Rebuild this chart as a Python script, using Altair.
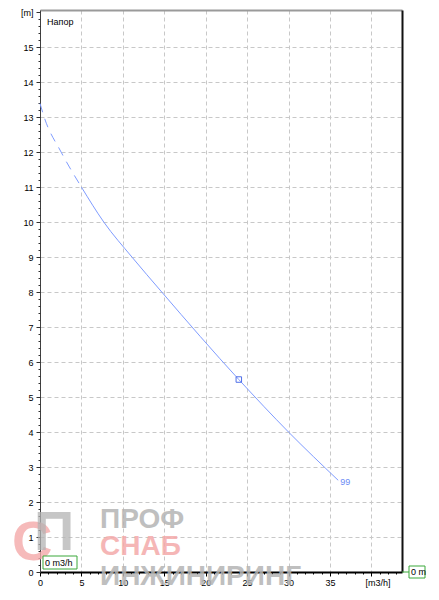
import altair as alt
import pandas as pd

# ---- data ----
q_solid = [5.0, 7.7, 11.1, 14.7, 24.0, 30.0, 36.0]
h_solid = [11.0, 10.0, 9.0, 8.0, 5.5, 4.0, 2.62]
q_dash = [0.0, 0.5, 2.55, 5.0]
h_dash = [13.39, 13.0, 12.0, 11.0]
q_point = [24.0]
h_point = [5.5]
curve_label = ["99"]
x_major = [0, 5, 10, 15, 20, 25, 30, 35, 40]
x_minor = list(range(0, 44))
y_major = list(range(0, 17))
y_minor = [round(i * 0.2, 1) for i in range(0, 81)]

FONT = "Liberation Sans"
BLUE = "#7f9cff"
GRID = "#c8c8c8"

df_solid = pd.DataFrame({"q": q_solid, "h": h_solid})
df_dash = pd.DataFrame({"q": q_dash, "h": h_dash})
df_pt = pd.DataFrame({"q": q_point, "h": h_point})
df_lab = pd.DataFrame({"q": [q_solid[-1]], "h": [h_solid[-1]], "t": curve_label})
one = pd.DataFrame({"a": [0]})

xs = alt.Scale(domain=[0, 43.7], nice=False, zero=False)
ys = alt.Scale(domain=[0, 16.06], nice=False, zero=False)

x_main = alt.Axis(orient="bottom", values=x_major, title=None,
                  labelExpr="datum.value == 40 ? '' : datum.label",
                  grid=True, gridColor=GRID, gridDash=[4, 3], gridWidth=1,
                  domainColor="black", domainWidth=2, tickColor="black",
                  tickSize=4, labelFont=FONT, labelFontSize=9,
                  labelColor="black", labelPadding=2, labelFlush=False)
y_main = alt.Axis(orient="left", values=y_major, title=None,
                  labelExpr="datum.value == 16 ? '[m]' : datum.label",
                  grid=True, gridColor=GRID, gridDash=[4, 3], gridWidth=1,
                  gridOpacity={"condition": {"test": "datum.value == 16", "value": 0}, "value": 1},
                  domainColor="#404040", domainWidth=1, tickColor="#303030",
                  tickSize=4, labelFont=FONT, labelFontSize=9,
                  labelColor="black", labelPadding=3, labelFlush=False)
x_top = alt.Axis(orient="top", labels=False, ticks=False, grid=False, title=None,
                 domainColor="#9a9a9a", domainWidth=2)
y_right = alt.Axis(orient="right", labels=False, ticks=False, grid=False, title=None,
                   domainColor="#111111", domainWidth=2)
x_min_ax = alt.Axis(orient="bottom", values=x_minor, labels=False, grid=False,
                    title=None, domain=False, tickSize=2, tickColor="black")
y_min_ax = alt.Axis(orient="left", values=y_minor, labels=False, grid=False,
                    title=None, domain=False, tickSize=2, tickColor="#303030")

solid = alt.Chart(df_solid).mark_line(color=BLUE, strokeWidth=1, interpolate="monotone").encode(
    x=alt.X("q:Q", scale=xs, axis=x_main),
    y=alt.Y("h:Q", scale=ys, axis=y_main))

dashed = alt.Chart(df_dash).mark_line(color=BLUE, strokeWidth=1, strokeDash=[9, 7],
                                      interpolate="monotone").encode(
    x=alt.X("q:Q", scale=xs, axis=x_top),
    y=alt.Y("h:Q", scale=ys, axis=y_right))

minor = alt.Chart(df_pt).mark_point(opacity=0).encode(
    x=alt.X("q:Q", scale=xs, axis=x_min_ax),
    y=alt.Y("h:Q", scale=ys, axis=y_min_ax))

pt = alt.Chart(df_pt).mark_point(shape="square", filled=False, color="#4f6fe8",
                                 size=30, strokeWidth=1, opacity=1).encode(
    x=alt.X("q:Q", scale=xs, axis=None), y=alt.Y("h:Q", scale=ys, axis=None))

lab = alt.Chart(df_lab).mark_text(align="left", baseline="middle", dx=2, dy=2,
                                  font=FONT, fontSize=9, color="#6b8cf5").encode(
    x=alt.X("q:Q", scale=xs, axis=None), y=alt.Y("h:Q", scale=ys, axis=None), text="t:N")

# ---- watermark ----
wm_gray = "#b4b4b4"
wm_pink = "#f4aaaa"
wm1 = alt.Chart(one).mark_text(text="ПРОФ", align="left", baseline="alphabetic",
                               font=FONT, fontSize=28, fontWeight="bold",
                               color=wm_gray, opacity=0.85).encode(
    x=alt.value(60), y=alt.value(518))
wm2 = alt.Chart(one).mark_text(text="СНАБ", align="left", baseline="alphabetic",
                               font=FONT, fontSize=28, fontWeight="bold",
                               color=wm_pink, opacity=0.85).encode(
    x=alt.value(60), y=alt.value(545))
wm3 = alt.Chart(one).mark_text(text="ИНЖИНИРИНГ", align="left", baseline="alphabetic",
                               font=FONT, fontSize=28, fontWeight="bold",
                               color=wm_gray, opacity=0.85).encode(
    x=alt.value(60), y=alt.value(575))
icon1 = alt.Chart(one).mark_text(text="С", align="left", baseline="alphabetic",
                                 font=FONT, fontSize=56, fontWeight="bold",
                                 color=wm_pink, opacity=0.8).encode(
    x=alt.value(-28), y=alt.value(550))
icon2 = alt.Chart(one).mark_text(text="П", align="left", baseline="alphabetic",
                                 font=FONT, fontSize=56, fontWeight="bold",
                                 color=wm_gray, opacity=0.75).encode(
    x=alt.value(-6), y=alt.value(540))

# ---- annotations ----
title_txt = alt.Chart(one).mark_text(text="Напор", align="left", baseline="middle",
                                     font=FONT, fontSize=9, color="black").encode(
    x=alt.value(7), y=alt.value(12))
unit_x = alt.Chart(one).mark_text(text="[m3/h]", align="center", baseline="middle",
                                  font=FONT, fontSize=9, color="black").encode(
    x=alt.value(338), y=alt.value(573))
box1 = alt.Chart(one).mark_rect(fill="white", stroke="#3aa83a", strokeWidth=1).encode(
    x=alt.value(3), x2=alt.value(37), y=alt.value(546), y2=alt.value(559))
box1t = alt.Chart(one).mark_text(text="0 m3/h", align="left", baseline="middle",
                                 font=FONT, fontSize=9, color="black").encode(
    x=alt.value(5), y=alt.value(553))
conn = alt.Chart(one).mark_rule(color="#3aa83a", strokeWidth=1).encode(
    x=alt.value(362), x2=alt.value(369), y=alt.value(562))
box2 = alt.Chart(one).mark_rect(fill="white", stroke="#3aa83a", strokeWidth=1).encode(
    x=alt.value(369), x2=alt.value(385), y=alt.value(556), y2=alt.value(568))
box2t = alt.Chart(one).mark_text(text="0 m", align="left", baseline="middle",
                                 font=FONT, fontSize=9, color="black").encode(
    x=alt.value(371), y=alt.value(562))

chart = alt.layer(
    solid, dashed, minor, icon1, icon2, wm1, wm2, wm3, pt, lab,
    title_txt, unit_x, box1, box1t, conn, box2, box2t
).resolve_axis(x="independent", y="independent").properties(
    width=362, height=562,
    autosize=alt.AutoSizeParams(type="none"),
    padding={"left": 32, "top": 2, "right": 29, "bottom": 20},
    background="white",
).configure_view(stroke=None)

chart.save("out.html", embed_options={"renderer": "svg", "actions": False})
